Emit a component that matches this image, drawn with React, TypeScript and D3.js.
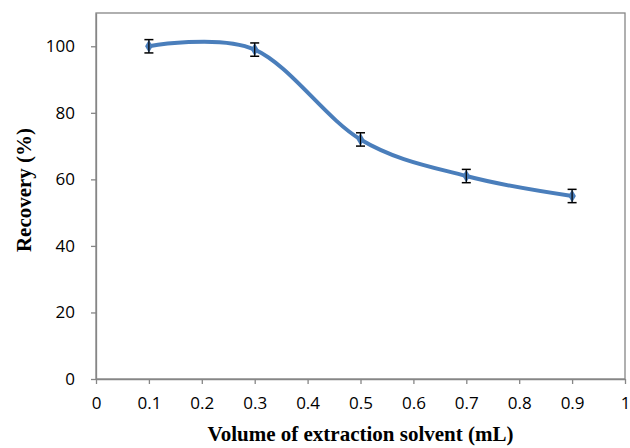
import React, { useEffect, useRef } from "react";
import * as d3 from "d3";

const volumes = [0.1, 0.3, 0.5, 0.7, 0.9];
const recovery = [100, 99, 72, 61, 55];
const errors = [2, 2, 2, 2, 2];
const xTicks = [0, 0.1, 0.2, 0.3, 0.4, 0.5, 0.6, 0.7, 0.8, 0.9, 1];
const yTicks = [0, 20, 40, 60, 80, 100];

export default function App() {
    const ref = useRef<SVGSVGElement>(null);

    useEffect(() => {
        if (!ref.current) return;
        const width = 630, height = 448;
        const margin = { top: 13, right: 5, bottom: 69, left: 96 };
        const innerW = width - margin.left - margin.right;
        const innerH = height - margin.top - margin.bottom;

        const svg = d3.select(ref.current);
        svg.selectAll("*").remove();

        const g = svg.append("g").attr("transform", `translate(${margin.left},${margin.top})`);

        const x = d3.scaleLinear().domain([0, 1]).range([0, innerW]);
        const y = d3.scaleLinear().domain([0, 110]).range([innerH, 0]);
        const axisColor = "#868686";
        const tickFont = "'Open Sans', 'Noto Sans', sans-serif";
        const titleFont = "'Liberation Serif', 'Times New Roman', serif";

        // plot border (top/right)
        g.append("rect")
            .attr("x", 0).attr("y", 0)
            .attr("width", innerW).attr("height", innerH)
            .attr("fill", "none")
            .attr("stroke", axisColor)
            .attr("stroke-width", 1.3);

        const xAxis = g.append("g")
            .attr("transform", `translate(0,${innerH})`)
            .call(d3.axisBottom(x).tickValues(xTicks).tickSize(5).tickSizeOuter(0).tickPadding(13)
                .tickFormat(d => d3.format("")(+d)));
        xAxis.select(".domain").attr("stroke", axisColor).attr("stroke-width", 1.3);
        xAxis.selectAll("line").attr("stroke", axisColor).attr("stroke-width", 1.3);
        xAxis.selectAll("text").attr("font-size", 17).attr("font-family", tickFont).attr("fill", "#000");

        const yAxis = g.append("g")
            .call(d3.axisLeft(y).tickValues(yTicks).tickSize(5).tickSizeOuter(0).tickPadding(16));
        yAxis.select(".domain").attr("stroke", axisColor).attr("stroke-width", 1.3);
        yAxis.selectAll("line").attr("stroke", axisColor).attr("stroke-width", 1.3);
        yAxis.selectAll("text").attr("font-size", 17).attr("font-family", tickFont).attr("fill", "#000");

        const pts = volumes.map((v, i) => ({ v, r: recovery[i], e: errors[i] }));

        const line = d3.line<typeof pts[number]>()
            .x(d => x(d.v))
            .y(d => y(d.r))
            .curve(d3.curveCardinal.tension(0));

        g.append("path")
            .datum(pts)
            .attr("d", line)
            .attr("fill", "none")
            .attr("stroke", "#4a7ebb")
            .attr("stroke-width", 4);

        g.selectAll(".marker")
            .data(pts)
            .enter().append("path")
            .attr("class", "marker")
            .attr("d", d3.symbol().type(d3.symbolDiamond).size(50)())
            .attr("transform", d => `translate(${x(d.v)},${y(d.r)})`)
            .attr("fill", "#4a7ebb");

        const eb = g.selectAll(".err").data(pts).enter().append("g").attr("class", "err");
        eb.append("line")
            .attr("x1", d => x(d.v)).attr("x2", d => x(d.v))
            .attr("y1", d => y(d.r - d.e)).attr("y2", d => y(d.r + d.e))
            .attr("stroke", "#000").attr("stroke-width", 1.2);
        [1, -1].forEach(s => {
            eb.append("line")
                .attr("x1", d => x(d.v) - 4.5).attr("x2", d => x(d.v) + 4.5)
                .attr("y1", d => y(d.r + s * d.e)).attr("y2", d => y(d.r + s * d.e))
                .attr("stroke", "#000").attr("stroke-width", 1.5);
        });

        svg.append("text")
            .attr("x", margin.left + innerW / 2)
            .attr("y", 441)
            .attr("text-anchor", "middle")
            .attr("font-family", titleFont)
            .attr("font-weight", "bold")
            .attr("font-size", 21)
            .text("Volume of extraction solvent (mL)");

        svg.append("text")
            .attr("transform", `translate(31,190) rotate(-90)`)
            .attr("text-anchor", "middle")
            .attr("font-family", titleFont)
            .attr("font-weight", "bold")
            .attr("font-size", 21)
            .text("Recovery (%)");
    }, []);

    return (
        <svg ref={ref} width={630} height={448}
            style={{ position: "absolute", left: 0, top: 0, background: "#fff" }} />
    );
}
